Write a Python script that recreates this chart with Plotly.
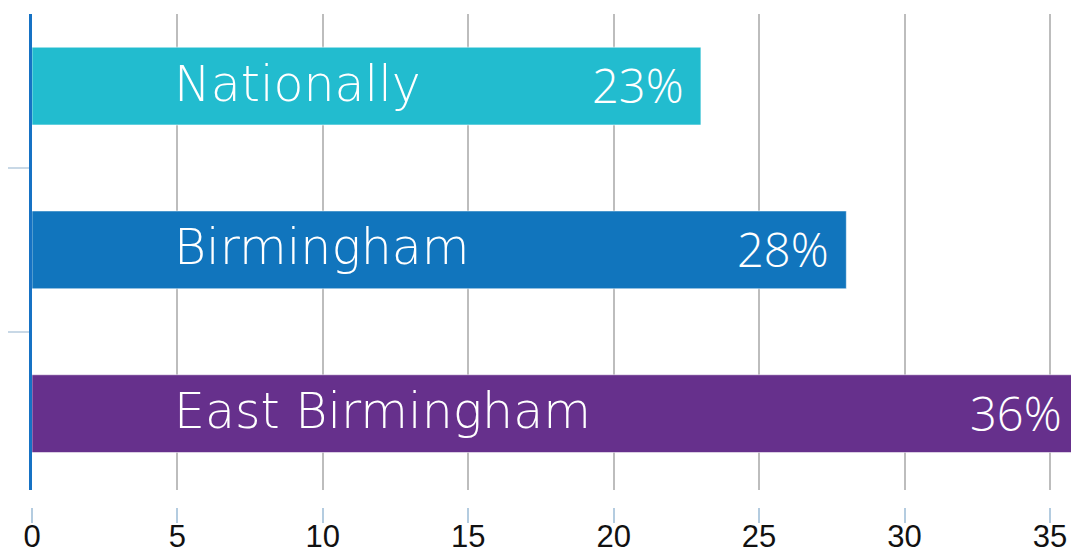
import plotly.graph_objects as go

categories = ["Nationally", "Birmingham", "East Birmingham"]
values = [23, 28, 36]
colors = ["#22BCCF", "#1175BD", "#66308C"]
label_start = 5
x_ticks = [0, 5, 10, 15, 20, 25, 30, 35]

fig = go.Figure()
fig.add_trace(go.Bar(
    y=categories, x=values, orientation="h",
    marker=dict(color=colors, line=dict(color="rgba(255,255,255,0.55)", width=1)),
    width=0.475, hoverinfo="skip",
))

name_font = dict(family="DejaVu Sans", size=49, color="white", weight=200)
pct_font = dict(family="Open Sans", size=47, color="white", weight=300)
for c, v in zip(categories, values):
    fig.add_annotation(x=label_start, y=c, text=c, showarrow=False,
                       xanchor="left", yanchor="middle", font=name_font, xshift=-5, yshift=2)
    fig.add_annotation(x=v, y=c, text=f"{v}%", showarrow=False,
                       xanchor="right", yanchor="middle", xshift=-15, yshift=1, font=pct_font)

fig.update_layout(
    width=1071, height=544,
    margin=dict(l=24, r=0, t=6, b=45, autoexpand=False),
    paper_bgcolor="white", plot_bgcolor="white",
    showlegend=False,
    xaxis=dict(
        range=[0, 36], tickvals=x_ticks, showgrid=True, gridcolor="#BDBDBD", gridwidth=2,
        zeroline=False, showline=False, ticks="outside", ticklen=15, tickwidth=2,
        tickcolor="#B4CCE0", anchor="free", position=0, automargin=False,
        ticklabelstandoff=-13,
        tickfont=dict(family="Liberation Sans", size=31, color="#111111"),
    ),
    yaxis=dict(
        domain=[0.0345, 1], range=[2.466, -0.44], showgrid=False, zeroline=False,
        showline=True, linecolor="#1672C4", linewidth=2.5, automargin=False,
        showticklabels=False, ticks="outside", tickson="boundaries", ticklen=22,
        tickwidth=2, tickcolor="#C8D8E6",
    ),
)

fig.write_html("out.html")
